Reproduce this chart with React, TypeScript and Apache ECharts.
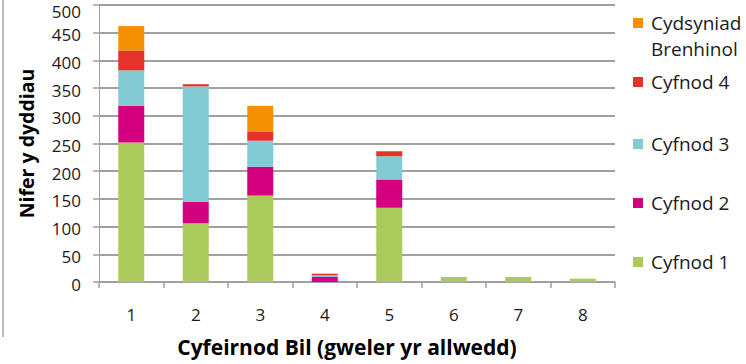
import React, { useEffect, useRef } from "react";
import * as echarts from "echarts";

const categories = ["1", "2", "3", "4", "5", "6", "7", "8"];
const yTicks = { min: 0, max: 500, interval: 50 };

const cyfnod1 = [252, 106, 156, 0, 134, 9, 9, 6];
const cyfnod2 = [66, 39, 52, 9, 51, 0, 0, 0];
const cyfnod3 = [64, 208, 47, 3, 42, 0, 0, 0];
const cyfnod4 = [36, 4, 16, 3, 9, 0, 0, 0];
const cydsyniad = [44, 0, 47, 0, 0, 0, 0, 0];

const seriesNames = ["Cyfnod 1", "Cyfnod 2", "Cyfnod 3", "Cyfnod 4", "Cydsyniad Brenhinol"];
const seriesColors = ["#aacb5b", "#d5007f", "#82cbd5", "#e4332b", "#f39100"];
const seriesData = [cyfnod1, cyfnod2, cyfnod3, cyfnod4, cydsyniad];

const FONT = "'Open Sans', sans-serif";

export default function App() {
  const ref = useRef<HTMLDivElement>(null);
  useEffect(() => {
    if (!ref.current) return;
    const chart = echarts.init(ref.current, undefined, { renderer: "svg" });
    const legendTops = [249, 190, 131, 69, 10];
    const legends = seriesNames.map((name, i) => ({
      data: [name],
      left: 633,
      top: legendTops[i],
      orient: "vertical",
      padding: 0,
      itemWidth: 10,
      itemHeight: 10,
      icon: "rect",
      selectedMode: false,
      formatter: i === 4 ? "Cydsyniad" : "{name}",
      textStyle: {
        fontFamily: FONT,
        fontSize: 19,
        color: "#1a1a1a",
        lineHeight: 26,
        padding: [0, 0, 0, 3],
      },
    }));
    chart.setOption({
      animation: false,
      grid: { left: 99, right: 131, top: 5, bottom: 77, containLabel: false },
      legend: legends,
      xAxis: {
        type: "category",
        data: categories,
        boundaryGap: true,
        name: "Cyfeirnod Bil (gweler yr allwedd)",
        nameLocation: "middle",
        nameGap: 53,
        nameTextStyle: {
          fontFamily: FONT,
          fontSize: 21,
          fontWeight: "bold",
          color: "#000",
          lineHeight: 24,
          padding: [0, 20, 0, 0],
        },
        axisLine: { lineStyle: { color: "#a0a0a0", width: 1.5 } },
        axisTick: { show: true, length: 6, lineStyle: { color: "#a0a0a0", width: 1.5 } },
        axisLabel: { fontFamily: FONT, fontSize: 17, color: "#1a1a1a", margin: 24 },
      },
      yAxis: {
        type: "value",
        min: yTicks.min,
        max: yTicks.max,
        interval: yTicks.interval,
        name: "Nifer y dyddiau",
        nameLocation: "middle",
        nameGap: 62,
        nameTextStyle: {
          fontFamily: FONT,
          fontSize: 19.5,
          fontWeight: "bold",
          color: "#000",
          lineHeight: 22,
        },
        axisLine: { show: true, lineStyle: { color: "#a0a0a0", width: 1 } },
        axisTick: { show: true, length: 6, lineStyle: { color: "#a0a0a0", width: 1.5 } },
        axisLabel: {
          fontFamily: FONT,
          fontSize: 17,
          color: "#1a1a1a",
          margin: 18,
          padding: [4, 0, 0, 0],
          formatter: (v: number) => (v === yTicks.max ? "{t|" + v + "}" : String(v)),
          rich: {
            t: { fontFamily: FONT, fontSize: 17, color: "#1a1a1a", padding: [8, 0, 0, 0] },
          },
        },
        splitLine: { show: true, lineStyle: { color: "#a0a0a0", width: 2 } },
      },
      graphic: [
        {
          type: "line",
          shape: { x1: 3, y1: 0, x2: 3, y2: 337 },
          style: { stroke: "#a6a6a6", lineWidth: 1.5 },
        },
        {
          type: "text",
          x: 651,
          y: 49,
          style: {
            text: "Brenhinol",
            fontFamily: FONT,
            fontSize: 19,
            fill: "#1a1a1a",
            textVerticalAlign: "middle",
            verticalAlign: "middle",
          },
        },
      ],
      series: seriesNames.map((name, i) => ({
        name,
        type: "bar",
        stack: "total",
        barWidth: 26,
        data: seriesData[i],
        itemStyle: { color: seriesColors[i] },
      })),
    });
    return () => chart.dispose();
  }, []);
  return <div ref={ref} style={{ width: 746, height: 364, position: "absolute", left: 0, top: 0 }} />;
}
